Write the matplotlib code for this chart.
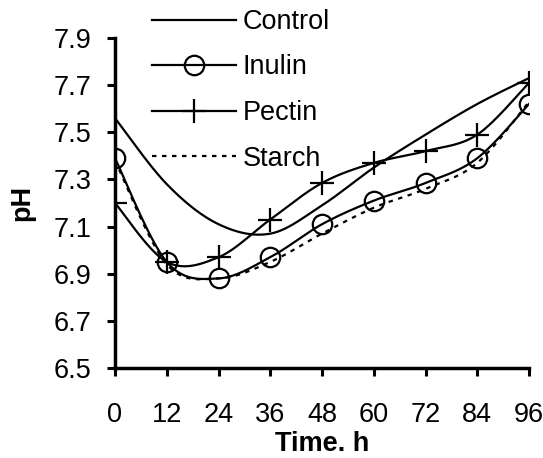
import numpy as np
import matplotlib
matplotlib.use('Agg')
import matplotlib.pyplot as plt

plt.rcParams['font.family'] = ['Liberation Sans', 'DejaVu Sans']

# data
hours = [0, 12, 24, 36, 48, 60, 72, 84, 96]
control = [7.56, 7.28, 7.11, 7.07, 7.19, 7.35, 7.49, 7.62, 7.73]
inulin = [7.39, 6.95, 6.88, 6.97, 7.11, 7.21, 7.285, 7.39, 7.62]
pectin = [7.20, 6.95, 6.97, 7.13, 7.285, 7.37, 7.42, 7.49, 7.71]
starch = [7.38, 6.94, 6.88, 6.95, 7.07, 7.18, 7.26, 7.37, 7.63]
yticks = [6.5, 6.7, 6.9, 7.1, 7.3, 7.5, 7.7, 7.9]


def smooth(x, y, n=30):
	# excel-like smoothed line: bezier segments, control points from neighbours
	x = np.asarray(x, float)
	y = np.asarray(y, float)
	px = np.concatenate([[x[0]], x, [x[-1]]])
	py = np.concatenate([[y[0]], y, [y[-1]]])
	xs, ys = [], []
	t = np.linspace(0, 1, n)
	for i in range(len(x) - 1):
		p0 = np.array([px[i + 1], py[i + 1]])
		p3 = np.array([px[i + 2], py[i + 2]])
		c1 = p0 + (np.array([px[i + 2], py[i + 2]]) - np.array([px[i], py[i]])) / 6.
		c2 = p3 - (np.array([px[i + 3], py[i + 3]]) - np.array([px[i + 1], py[i + 1]])) / 6.
		b = ((1 - t) ** 3)[:, None] * p0 + (3 * (1 - t) ** 2 * t)[:, None] * c1 \
			+ (3 * (1 - t) * t ** 2)[:, None] * c2 + (t ** 3)[:, None] * p3
		xs.extend(b[:, 0])
		ys.extend(b[:, 1])
	return xs, ys


fig = plt.figure(figsize=(5.43, 4.58), dpi=100, facecolor='white')
ax = fig.add_axes([115 / 543., 1 - 368 / 458., 414 / 543., 330 / 458.])

lw = 1.6
sx, sy = smooth(hours, control)
ax.plot(sx, sy, 'k-', lw=lw)
sx, sy = smooth(hours, inulin)
ax.plot(sx, sy, 'k-', lw=lw)
ax.plot(hours, inulin, 'o', ms=14, mfc='none', mec='k', mew=1.6)
sx, sy = smooth(hours, pectin)
ax.plot(sx, sy, 'k-', lw=lw)
ax.plot(hours, pectin, '+', ms=17, mec='k', mew=1.6)
sx, sy = smooth(hours, starch)
ax.plot(sx, sy, color='k', lw=lw, ls=(0, (2, 2.5)))

# legend handles
h1, = ax.plot([], [], 'k-', lw=lw, label='Control')
h2, = ax.plot([], [], 'k-', lw=lw, marker='o', ms=14, mfc='none', mew=1.6, label='Inulin')
h3, = ax.plot([], [], 'k-', lw=lw, marker='+', ms=17, mew=1.6, label='Pectin')
h4, = ax.plot([], [], color='k', lw=lw, ls=(0, (2, 2.5)), label='Starch')
leg = ax.legend(handles=[h1, h2, h3, h4], loc='upper left',
	bbox_to_anchor=(152 / 543., 1 - 9 / 458.), bbox_transform=fig.transFigure,
	frameon=False, fontsize=19.5, handlelength=3.1, handletextpad=0.25,
	labelspacing=0.72, borderpad=0, borderaxespad=0)

ax.set_xlim(0, 96)
ax.set_ylim(6.5, 7.9)
ax.set_xticks(hours)
ax.set_yticks(yticks)
ax.set_yticklabels(['%.1f' % v for v in yticks])
ax.spines['top'].set_color('none')
ax.spines['right'].set_color('none')
ax.spines['left'].set_linewidth(2.5)
ax.spines['bottom'].set_linewidth(2.5)
ax.tick_params(axis='both', direction='out', length=6, width=2.2, labelsize=19.5)
ax.tick_params(axis='x', pad=18.5)
ax.tick_params(axis='y', pad=11)
ax.set_xlabel('Time. h', fontsize=19.5, fontweight='bold', labelpad=2)
ax.set_ylabel('pH', fontsize=19.5, fontweight='bold', labelpad=13)

plt.savefig('out.png', dpi=100)
